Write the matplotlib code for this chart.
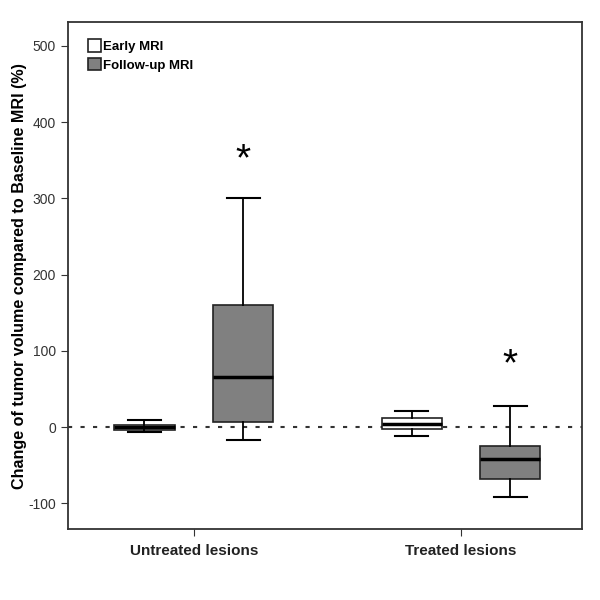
import matplotlib
matplotlib.use("Agg")
import matplotlib.pyplot as plt
from matplotlib.patches import Patch

plt.rcParams['font.family'] = ['Liberation Sans', 'DejaVu Sans']
plt.rcParams['axes.unicode_minus'] = False

groups = ["Untreated lesions", "Treated lesions"]
series = ["Early MRI", "Follow-up MRI"]
colors = ["white", "#808080"]

# whislo, q1, med, q3, whishi per group, per series
early = [(-6, -4, 0, 3, 9), (-12, -3, 4, 12, 21)]
followup = [(-17, 7, 66, 160, 300), (-92, -68, -42, -25, 28)]
stars = [357, 88]  # asterisk heights over follow-up boxes

fig = plt.figure(figsize=(6, 6), dpi=100)
ax = fig.add_axes([0.113, 0.118, 0.857, 0.845])

offset = 0.185
width = 0.225

for s, (data, col) in enumerate(zip([early, followup], colors)):
    stats = []
    for vals in data:
        lo, q1, med, q3, hi = vals
        stats.append(dict(whislo=lo, q1=q1, med=med, q3=q3, whishi=hi, fliers=[]))
    pos = [i + 1 + (offset if s else -offset) for i in range(len(groups))]
    ax.bxp(stats, positions=pos, widths=width, patch_artist=True, showfliers=False,
           boxprops=dict(facecolor=col, edgecolor="#222222", linewidth=1.2),
           medianprops=dict(color="black", linewidth=2.5),
           whiskerprops=dict(color="black", linewidth=1.3),
           capprops=dict(color="black", linewidth=1.5),
           capwidths=width * 0.55, manage_ticks=False)

ax.axhline(0, color="#333333", linestyle=(0, (2, 4)), linewidth=1.5, zorder=0)

for i, y in enumerate(stars):
    ax.annotate("*", (i + 1 + offset, y), xytext=(0, -4), textcoords="offset points",
                ha="center", va="center", fontsize=28)

ax.set_xlim(0.528, 2.453)
ax.set_ylim(-134, 531)
ax.set_xticks([1, 2])
ax.set_xticklabels(groups, fontsize=11, fontweight="bold")
ax.set_yticks([-100, 0, 100, 200, 300, 400, 500])
ax.tick_params(axis="y", labelsize=10, length=5, colors="#333333", labelcolor="#333333")
ax.tick_params(axis="x", length=5, pad=6, colors="#333333", labelcolor="#222222")
for sp in ax.spines.values():
    sp.set_linewidth(1.3)
    sp.set_color("#333333")

ax.set_ylabel("Change of tumor volume compared to Baseline MRI (%)",
              fontsize=11.6, fontweight="bold", labelpad=1)

handles = [Patch(facecolor=c, edgecolor="#222222", linewidth=1.2, label=l)
           for c, l in zip(colors, series)]
ax.legend(handles=handles, loc="upper left", frameon=False,
          prop=dict(weight="bold", size=9.5), handlelength=1.0, handleheight=1.1,
          handletextpad=0.15, labelspacing=0.35, borderaxespad=0.9,
          bbox_to_anchor=(0.005, 1.0))

fig.savefig("out.png", dpi=100)
